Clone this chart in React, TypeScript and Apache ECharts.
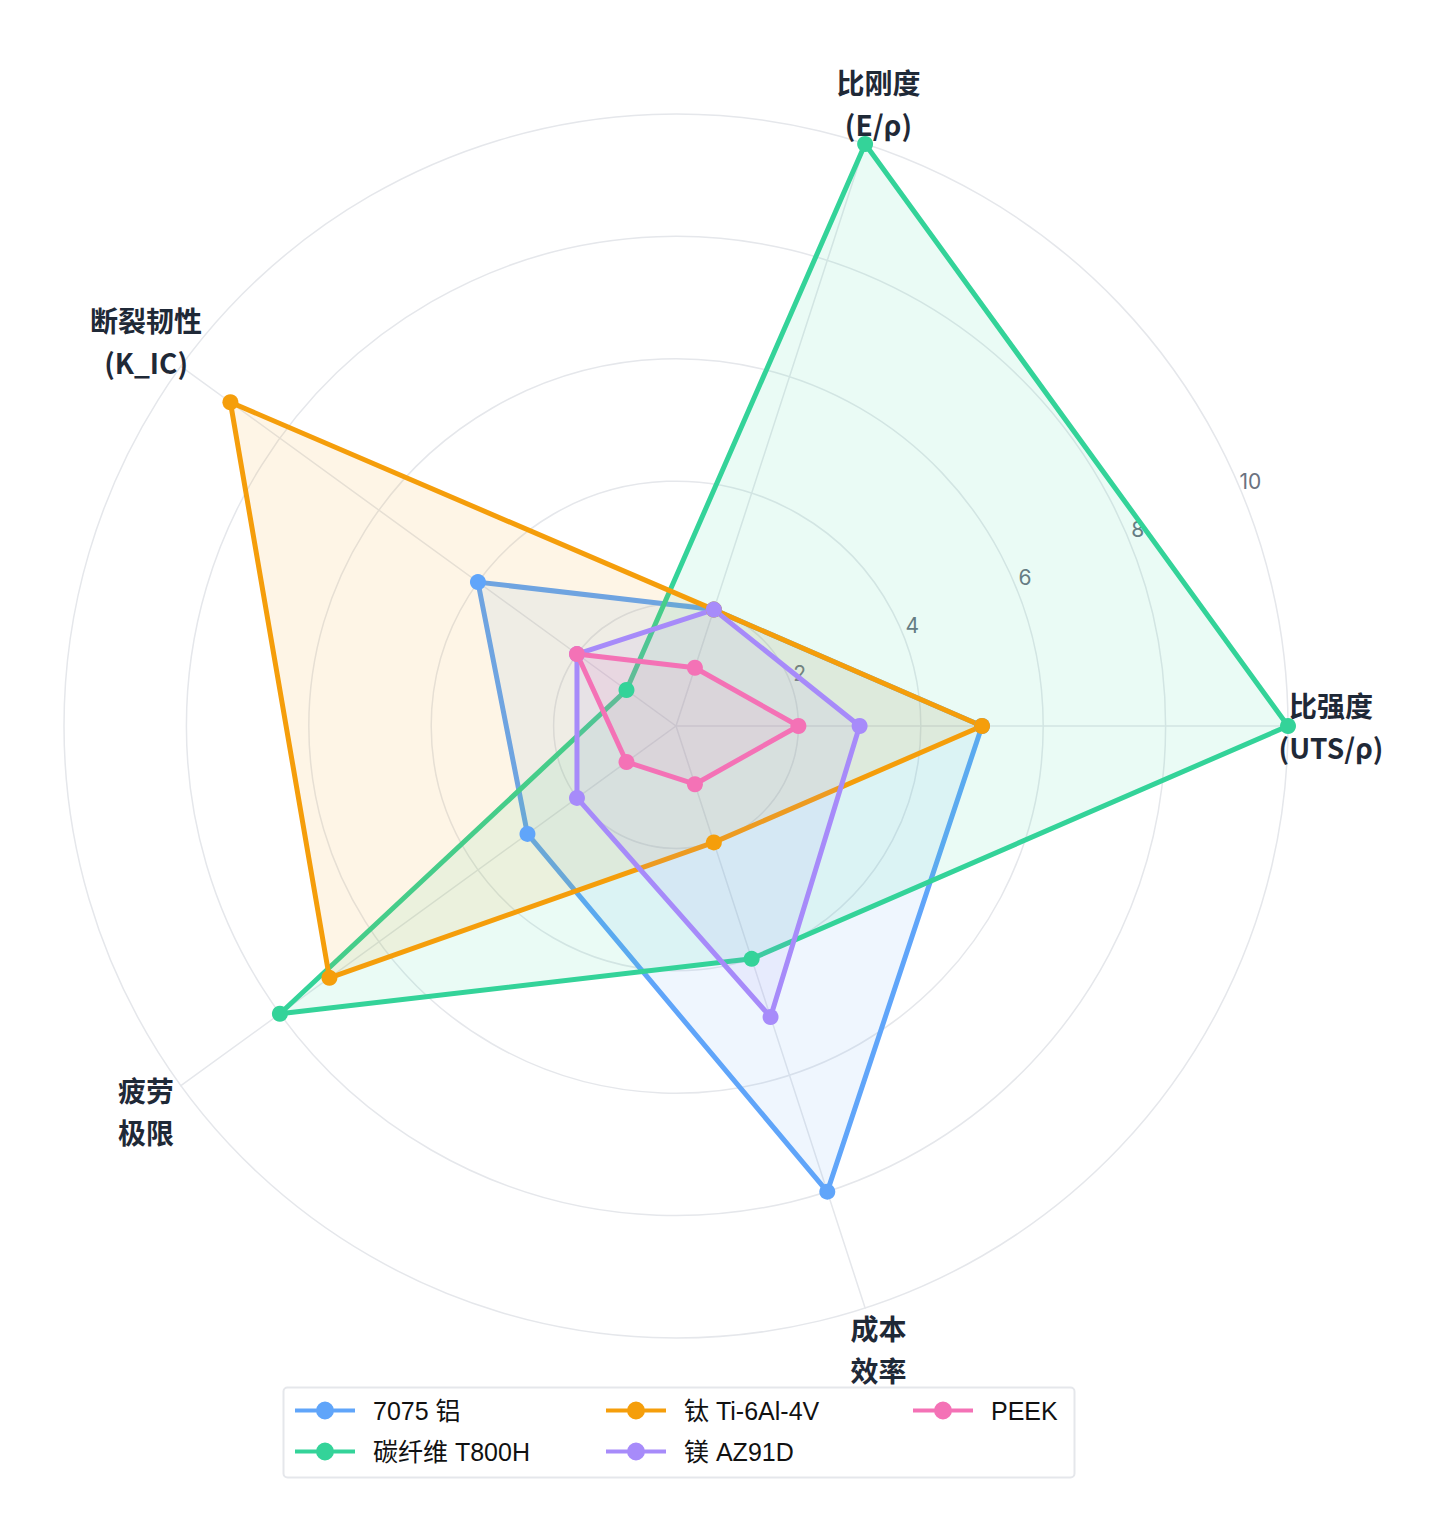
import React, { useEffect, useRef } from 'react';
import * as echarts from 'echarts';

// axes of the radar, counter-clockwise from the right
const indicators = ['比强度\n(UTS/ρ)', '比刚度\n(E/ρ)', '断裂韧性\n(K_IC)', '疲劳\n极限', '成本\n效率'];
const maxValue = 10;
const tickStep = 2;

const materials = ['7075 铝', '碳纤维 T800H', '钛 Ti-6Al-4V', '镁 AZ91D', 'PEEK'];
const aluminium = [5, 2, 4, 3, 8];
const carbonFiber = [10, 10, 1, 8, 4];
const titanium = [5, 2, 9, 7, 2];
const magnesium = [3, 2, 2, 2, 5];
const peek = [2, 1, 2, 1, 1];
const colors = ['#60a5fa', '#34d399', '#f59e0b', '#a78bfa', '#f472b6'];

// legend laid out in three columns
const legendColumns = [
    [materials[0], materials[1]],
    [materials[2], materials[3]],
    [materials[4]],
];
const legendLefts = [290, 601, 908];

const fontFamily = "'Noto Sans CJK SC', 'Noto Sans', sans-serif";
const legendIcon =
    'path://M0,6.5 L60,6.5 L60,10.5 L0,10.5 Z M21,8.5 A9,9 0 1,1 39,8.5 A9,9 0 1,1 21,8.5 Z';

const App: React.FC = () => {
    const chartRef = useRef<HTMLDivElement | null>(null);

    useEffect(() => {
        if (!chartRef.current) return;
        const chart = echarts.init(chartRef.current, undefined, { renderer: 'svg' });

        const values = [aluminium, carbonFiber, titanium, magnesium, peek];

        const option = {
            animation: false,
            backgroundColor: '#ffffff',
            radar: {
                center: [676, 726],
                radius: 612,
                startAngle: 0,
                shape: 'circle',
                splitNumber: maxValue / tickStep,
                indicator: indicators.map((name) => ({ name, min: 0, max: maxValue })),
                nameGap: 43,
                axisName: {
                    color: '#1f2937',
                    fontSize: 28,
                    fontWeight: 600,
                    lineHeight: 42,
                    align: 'center',
                    verticalAlign: 'middle',
                    fontFamily,
                },
                splitLine: { lineStyle: { color: '#e5e7eb', width: 1.5 } },
                splitArea: { show: false },
                axisLine: { lineStyle: { color: '#e5e7eb', width: 1.5 } },
                axisTick: { show: false },
            },
            // only used to draw the radial tick labels at an angle
            polar: { center: [687, 721], radius: 612 },
            angleAxis: {
                type: 'value',
                min: 0,
                max: 360,
                startAngle: 23,
                show: false,
            },
            radiusAxis: {
                type: 'value',
                min: 0,
                max: maxValue,
                interval: tickStep,
                axisLine: { show: false },
                axisTick: { show: false },
                splitLine: { show: false },
                axisLabel: {
                    color: '#6b7280',
                    fontSize: 21,
                    margin: 0,
                    align: 'center',
                    verticalAlign: 'middle',
                    fontFamily: "Inter, 'Noto Sans', sans-serif",
                    formatter: (v: number) => (v === 0 ? '' : String(v)),
                },
            },
            legend: legendColumns.map((col, i) => ({
                data: col,
                orient: 'vertical',
                left: legendLefts[i],
                top: 1393,
                itemWidth: 60,
                itemHeight: 18,
                itemGap: 16,
                icon: legendIcon,
                selectedMode: false,
                textStyle: {
                    fontSize: 25,
                    color: '#111111',
                    padding: [0, 0, 0, 13],
                    fontFamily: "'Liberation Sans', 'Noto Sans CJK SC', sans-serif",
                },
            })),
            graphic: [
                {
                    type: 'rect',
                    left: 281,
                    top: 1385,
                    shape: { width: 791, height: 90, r: 4 },
                    style: { fill: 'none', stroke: '#e5e7eb', lineWidth: 2 },
                },
            ],
            series: materials.map((name, i) => ({
                type: 'radar',
                name,
                symbol: 'circle',
                symbolSize: 16,
                lineStyle: { color: colors[i], width: 5 },
                itemStyle: { color: colors[i] },
                areaStyle: { color: colors[i], opacity: 0.1 },
                data: [{ name, value: values[i] }],
            })),
        };

        chart.setOption(option);

        return () => {
            chart.dispose();
        };
    }, []);

    return (
        <div
            ref={chartRef}
            style={{ position: 'fixed', left: 0, top: 0, width: '1448px', height: '1536px', background: '#fff' }}
        />
    );
};

export default App;
